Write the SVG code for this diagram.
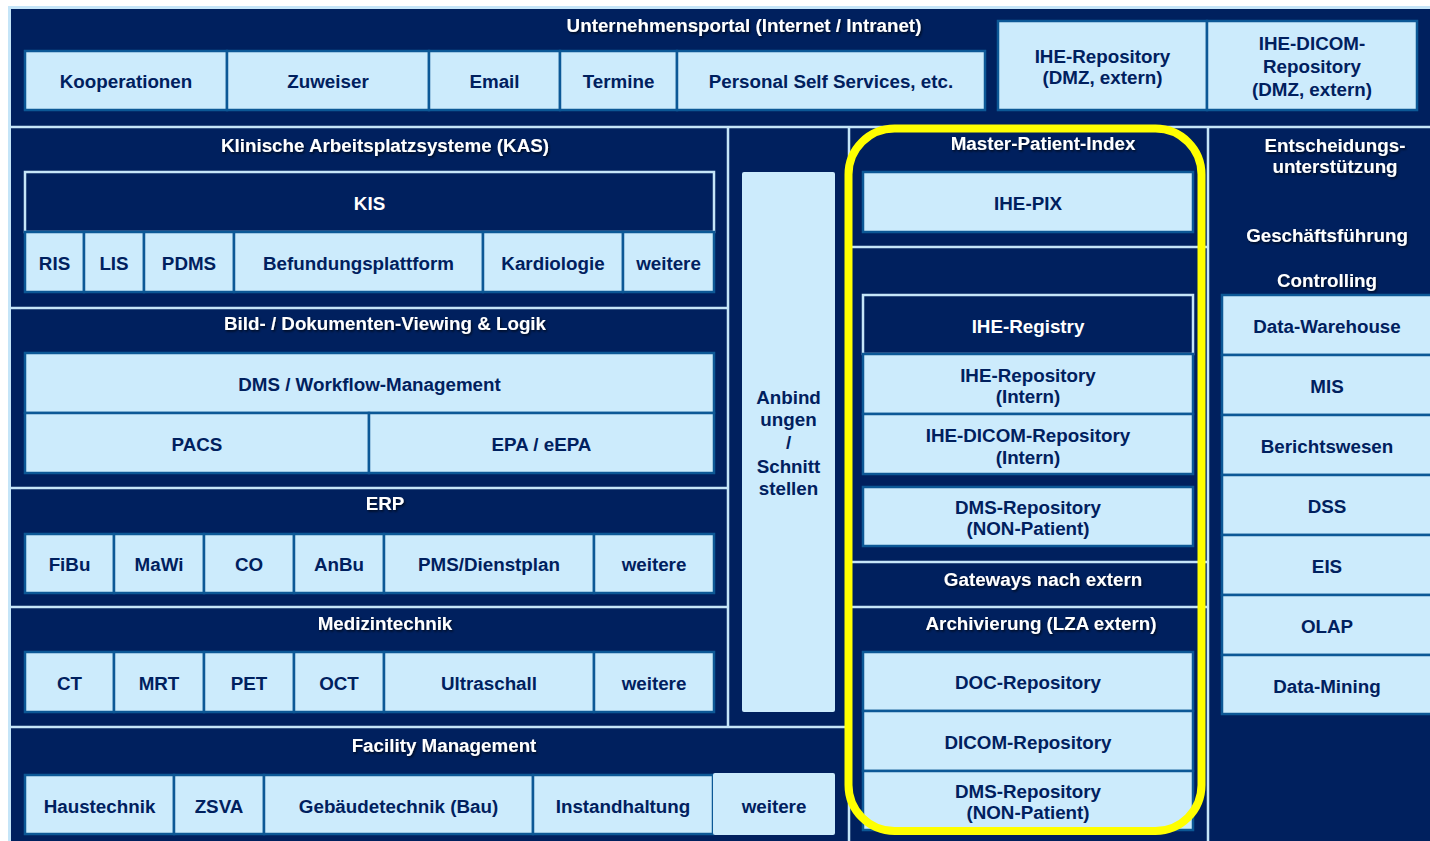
<svg xmlns="http://www.w3.org/2000/svg" width="1430" height="841" viewBox="0 0 1430 841">
<defs>
<filter id="sh" x="-10%" y="-50%" width="120%" height="200%">
<feDropShadow dx="1.2" dy="1.5" stdDeviation="0.8" flood-color="#000000" flood-opacity="0.7"/>
</filter>
<style>
.box{fill:#CCEBFC;stroke:#0C5896;stroke-width:2.5}
.dbox{fill:#00205E;stroke:#C5E5F8;stroke-width:2.5}
.pbox{fill:#CCEBFC;stroke:none}
.sep{stroke:#C5E5F8;stroke-width:2.5;fill:none}
.lbl{font-family:"Liberation Sans",Arial,sans-serif;font-weight:bold;font-size:18.8px;fill:#00205E;text-anchor:middle}
.wl{font-family:"Liberation Sans",Arial,sans-serif;font-weight:bold;font-size:18.8px;fill:#FFFFFF;text-anchor:middle}
.hd{font-family:"Liberation Sans",Arial,sans-serif;font-weight:bold;font-size:18.8px;fill:#FFFFFF;text-anchor:middle;filter:url(#sh)}
</style>
</defs>
<rect x="0" y="0" width="1430" height="841" fill="#FFFFFF"/>
<rect x="8" y="6" width="1430" height="841" fill="#C5E5F8"/>
<rect x="11" y="9" width="1430" height="841" fill="#00205E"/>

<g id="separators">
<line class="sep" x1="11" y1="127" x2="1430" y2="127"/>
<line class="sep" x1="728" y1="127" x2="728" y2="727"/>
<line class="sep" x1="849" y1="127" x2="849" y2="841"/>
<line class="sep" x1="1208" y1="127" x2="1208" y2="841"/>
<line class="sep" x1="11" y1="308" x2="728" y2="308"/>
<line class="sep" x1="11" y1="488" x2="728" y2="488"/>
<line class="sep" x1="11" y1="607" x2="728" y2="607"/>
<line class="sep" x1="11" y1="727" x2="849" y2="727"/>
<line class="sep" x1="849" y1="247" x2="1208" y2="247"/>
<line class="sep" x1="849" y1="562" x2="1208" y2="562"/>
<line class="sep" x1="849" y1="607" x2="1208" y2="607"/>
</g>

<g id="headings">
<text class="hd" x="744" y="31.5">Unternehmensportal (Internet / Intranet)</text>
<text class="hd" x="385" y="151.5">Klinische Arbeitsplatzsysteme (KAS)</text>
<text class="hd" x="385" y="329.5">Bild- / Dokumenten-Viewing &amp; Logik</text>
<text class="hd" x="385" y="509.5">ERP</text>
<text class="hd" x="385" y="629.5">Medizintechnik</text>
<text class="hd" x="444" y="751.5">Facility Management</text>
<text class="hd" x="1043" y="149.5">Master-Patient-Index</text>
<text class="hd" x="1043" y="585.5">Gateways nach extern</text>
<text class="hd" x="1041" y="629.5">Archivierung (LZA extern)</text>
<text class="hd" x="1335" y="151.5">Entscheidungs-</text>
<text class="hd" x="1335" y="172.5">unterstützung</text>
<text class="hd" x="1327" y="241.5">Geschäftsführung</text>
<text class="hd" x="1327" y="286.5">Controlling</text>
</g>

<g id="portal">
<g id="n-kooperationen"><rect class="box" x="25" y="51" width="202" height="59"/><text class="lbl" x="126" y="87.5">Kooperationen</text></g>
<g id="n-zuweiser"><rect class="box" x="227" y="51" width="202" height="59"/><text class="lbl" x="328" y="87.5">Zuweiser</text></g>
<g id="n-email"><rect class="box" x="429" y="51" width="131" height="59"/><text class="lbl" x="494.5" y="87.5">Email</text></g>
<g id="n-termine"><rect class="box" x="560" y="51" width="117" height="59"/><text class="lbl" x="618.5" y="87.5">Termine</text></g>
<g id="n-pss"><rect class="box" x="677" y="51" width="308" height="59"/><text class="lbl" x="831" y="87.5">Personal Self Services, etc.</text></g>
<g id="n-ihe-repo-dmz"><rect class="box" x="998" y="21" width="209" height="89"/><text class="lbl" x="1102.5" y="62.5">IHE-Repository</text><text class="lbl" x="1102.5" y="83.5">(DMZ, extern)</text></g>
<g id="n-ihe-dicom-dmz"><rect class="box" x="1207" y="21" width="210" height="89"/><text class="lbl" x="1312" y="49.5">IHE-DICOM-</text><text class="lbl" x="1312" y="72.5">Repository</text><text class="lbl" x="1312" y="95.5">(DMZ, extern)</text></g>
</g>

<g id="kas">
<g id="n-kis"><rect class="dbox" x="25" y="172" width="689" height="60"/><text class="wl" x="369.5" y="209.5">KIS</text></g>
<g id="n-ris"><rect class="box" x="25" y="232" width="59" height="60"/><text class="lbl" x="54.5" y="269.5">RIS</text></g>
<g id="n-lis"><rect class="box" x="84" y="232" width="60" height="60"/><text class="lbl" x="114" y="269.5">LIS</text></g>
<g id="n-pdms"><rect class="box" x="144" y="232" width="90" height="60"/><text class="lbl" x="189" y="269.5">PDMS</text></g>
<g id="n-befund"><rect class="box" x="234" y="232" width="249" height="60"/><text class="lbl" x="358.5" y="269.5">Befundungsplattform</text></g>
<g id="n-kardio"><rect class="box" x="483" y="232" width="140" height="60"/><text class="lbl" x="553" y="269.5">Kardiologie</text></g>
<g id="n-kas-weitere"><rect class="box" x="623" y="232" width="91" height="60"/><text class="lbl" x="668.5" y="269.5">weitere</text></g>
</g>

<g id="viewing">
<g id="n-dms-wf"><rect class="box" x="25" y="353" width="689" height="60"/><text class="lbl" x="369.5" y="390.5">DMS / Workflow-Management</text></g>
<g id="n-pacs"><rect class="box" x="25" y="413" width="344" height="60"/><text class="lbl" x="197" y="450.5">PACS</text></g>
<g id="n-epa"><rect class="box" x="369" y="413" width="345" height="60"/><text class="lbl" x="541.5" y="450.5">EPA / eEPA</text></g>
</g>

<g id="erp">
<g id="n-fibu"><rect class="box" x="25" y="534" width="89" height="59"/><text class="lbl" x="69.5" y="570.5">FiBu</text></g>
<g id="n-mawi"><rect class="box" x="114" y="534" width="90" height="59"/><text class="lbl" x="159" y="570.5">MaWi</text></g>
<g id="n-co"><rect class="box" x="204" y="534" width="90" height="59"/><text class="lbl" x="249" y="570.5">CO</text></g>
<g id="n-anbu"><rect class="box" x="294" y="534" width="90" height="59"/><text class="lbl" x="339" y="570.5">AnBu</text></g>
<g id="n-pms"><rect class="box" x="384" y="534" width="210" height="59"/><text class="lbl" x="489" y="570.5">PMS/Dienstplan</text></g>
<g id="n-erp-weitere"><rect class="box" x="594" y="534" width="120" height="59"/><text class="lbl" x="654" y="570.5">weitere</text></g>
</g>

<g id="medizintechnik">
<g id="n-ct"><rect class="box" x="25" y="652" width="89" height="60"/><text class="lbl" x="69.5" y="689.5">CT</text></g>
<g id="n-mrt"><rect class="box" x="114" y="652" width="90" height="60"/><text class="lbl" x="159" y="689.5">MRT</text></g>
<g id="n-pet"><rect class="box" x="204" y="652" width="90" height="60"/><text class="lbl" x="249" y="689.5">PET</text></g>
<g id="n-oct"><rect class="box" x="294" y="652" width="90" height="60"/><text class="lbl" x="339" y="689.5">OCT</text></g>
<g id="n-us"><rect class="box" x="384" y="652" width="210" height="60"/><text class="lbl" x="489" y="689.5">Ultraschall</text></g>
<g id="n-med-weitere"><rect class="box" x="594" y="652" width="120" height="60"/><text class="lbl" x="654" y="689.5">weitere</text></g>
</g>

<g id="facility">
<g id="n-haus"><rect class="box" x="25" y="775" width="149" height="59"/><text class="lbl" x="99.5" y="812.5">Haustechnik</text></g>
<g id="n-zsva"><rect class="box" x="174" y="775" width="90" height="59"/><text class="lbl" x="219" y="812.5">ZSVA</text></g>
<g id="n-geb"><rect class="box" x="264" y="775" width="269" height="59"/><text class="lbl" x="398.5" y="812.5">Gebäudetechnik (Bau)</text></g>
<g id="n-instand"><rect class="box" x="533" y="775" width="180" height="59"/><text class="lbl" x="623" y="812.5">Instandhaltung</text></g>
<g id="n-fm-weitere"><rect class="pbox" x="713" y="773" width="122" height="62" rx="2"/><text class="lbl" x="774" y="812.5">weitere</text></g>
</g>

<g id="n-anbindungen">
<rect class="pbox" x="742" y="172" width="93" height="540" rx="2"/>
<text class="lbl" x="788.5" y="403.5">Anbind</text>
<text class="lbl" x="788.5" y="425.5">ungen</text>
<text class="lbl" x="788.5" y="448.5">/</text>
<text class="lbl" x="788.5" y="472.5">Schnitt</text>
<text class="lbl" x="788.5" y="494.5">stellen</text>
</g>

<g id="mpi">
<g id="n-pix"><rect class="box" x="863" y="172" width="330" height="60"/><text class="lbl" x="1028" y="209.5">IHE-PIX</text></g>
<g id="n-registry"><rect class="dbox" x="863" y="295" width="330" height="59"/><text class="wl" x="1028" y="332.5">IHE-Registry</text></g>
<g id="n-repo-intern"><rect class="box" x="863" y="354" width="330" height="60"/><text class="lbl" x="1028" y="381.5">IHE-Repository</text><text class="lbl" x="1028" y="402.5">(Intern)</text></g>
<g id="n-dicom-intern"><rect class="box" x="863" y="414" width="330" height="60"/><text class="lbl" x="1028" y="441.5">IHE-DICOM-Repository</text><text class="lbl" x="1028" y="463.5">(Intern)</text></g>
<g id="n-dms-repo"><rect class="box" x="863" y="487" width="330" height="59"/><text class="lbl" x="1028" y="513.5">DMS-Repository</text><text class="lbl" x="1028" y="534.5">(NON-Patient)</text></g>
<g id="n-doc-repo"><rect class="box" x="863" y="652" width="330" height="59"/><text class="lbl" x="1028" y="688.5">DOC-Repository</text></g>
<g id="n-dicom-repo"><rect class="box" x="863" y="711" width="330" height="60"/><text class="lbl" x="1028" y="748.5">DICOM-Repository</text></g>
<g id="n-dms-repo-lza"><rect class="box" x="863" y="771" width="330" height="59"/><text class="lbl" x="1028" y="797.5">DMS-Repository</text><text class="lbl" x="1028" y="818.5">(NON-Patient)</text></g>
</g>

<g id="decision">
<g id="n-dwh"><rect class="box" x="1222" y="295" width="212" height="60"/><text class="lbl" x="1327" y="332.5">Data-Warehouse</text></g>
<g id="n-mis"><rect class="box" x="1222" y="355" width="212" height="60"/><text class="lbl" x="1327" y="392.5">MIS</text></g>
<g id="n-bericht"><rect class="box" x="1222" y="415" width="212" height="60"/><text class="lbl" x="1327" y="452.5">Berichtswesen</text></g>
<g id="n-dss"><rect class="box" x="1222" y="475" width="212" height="60"/><text class="lbl" x="1327" y="512.5">DSS</text></g>
<g id="n-eis"><rect class="box" x="1222" y="535" width="212" height="60"/><text class="lbl" x="1327" y="572.5">EIS</text></g>
<g id="n-olap"><rect class="box" x="1222" y="595" width="212" height="60"/><text class="lbl" x="1327" y="632.5">OLAP</text></g>
<g id="n-mining"><rect class="box" x="1222" y="655" width="212" height="59"/><text class="lbl" x="1327" y="692.5">Data-Mining</text></g>
</g>

<g id="highlight">
<rect x="848.5" y="128.5" width="353" height="702.5" rx="46" ry="46" fill="none" stroke="#FFFF00" stroke-width="8"/>
</g>

<g id="connectors"/>
</svg>
